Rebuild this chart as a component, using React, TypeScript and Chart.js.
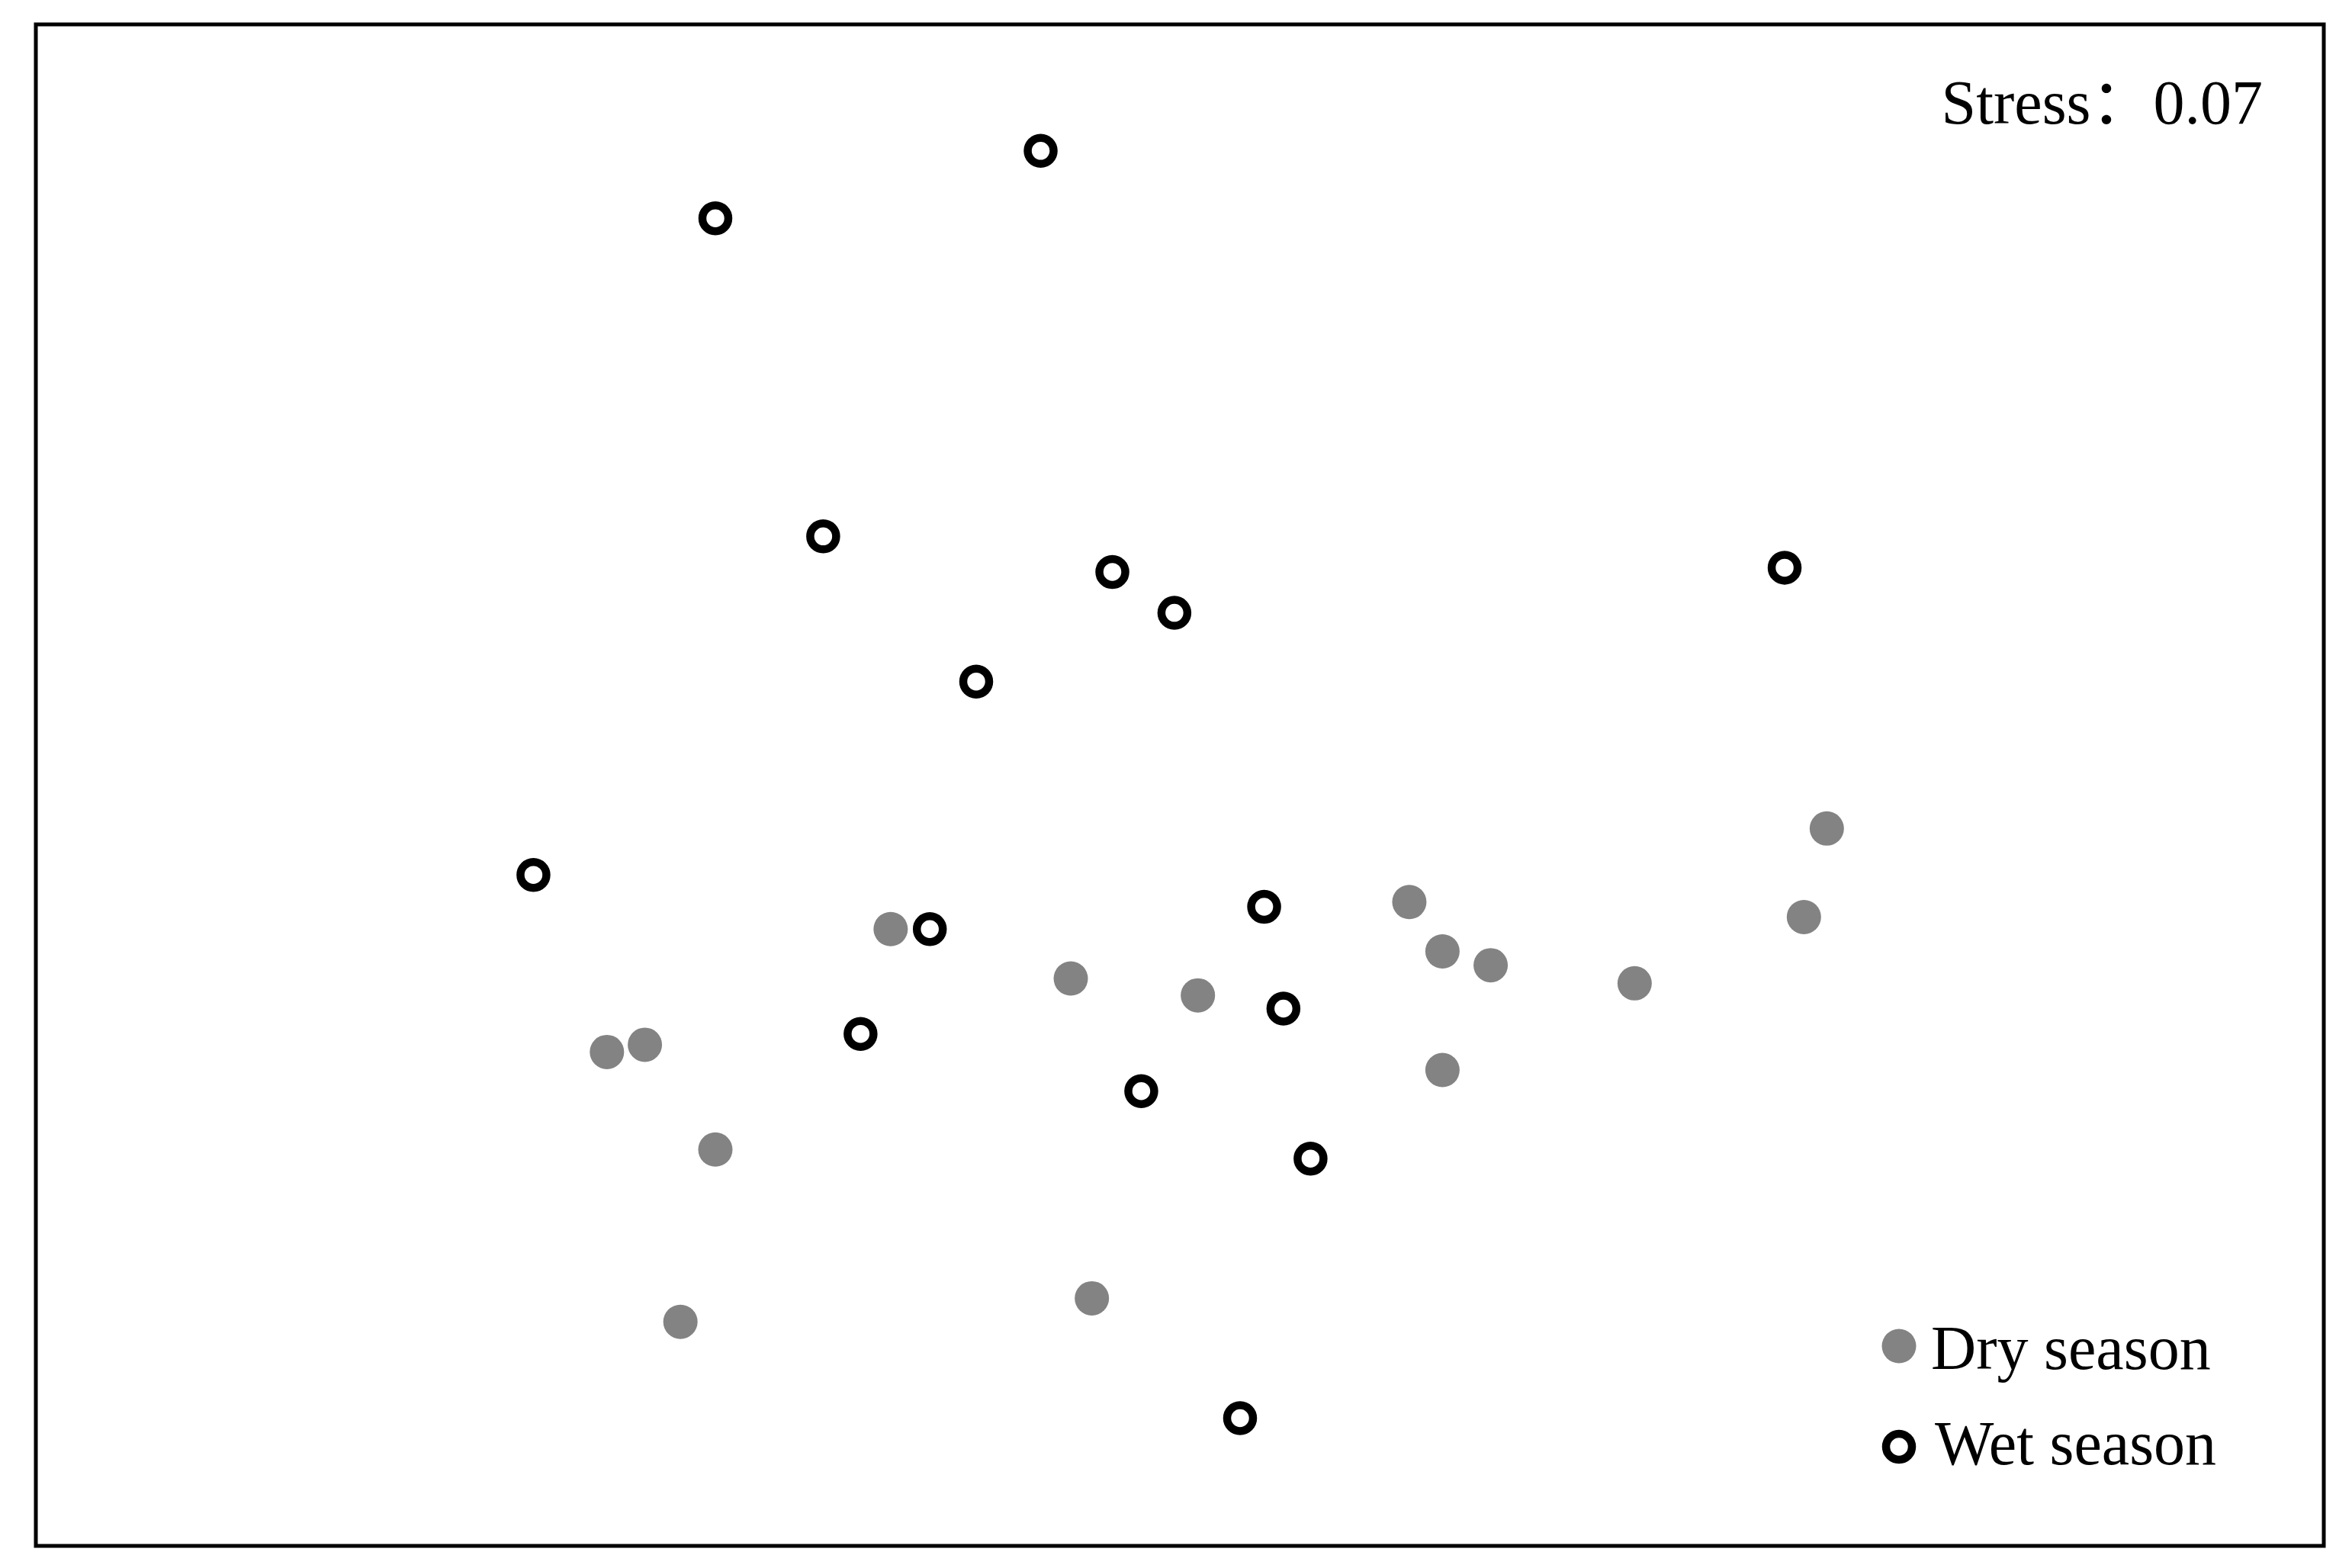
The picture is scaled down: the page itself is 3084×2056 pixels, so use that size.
import React, { useEffect, useRef } from "react";
import { Chart, registerables } from "chart.js";

Chart.register(...registerables);

const seriesNames = ["Dry season", "Wet season"];
const stressLabel = "Stress：0.07";

const dryX = [1.071, 0.378, 1.033, 0.433, 0.513, -0.483, -0.184, 0.027, 0.752, -0.891, -0.954, 0.433, -0.774, -0.149, -0.832];
const dryY = [-0.072, -0.194, -0.219, -0.276, -0.299, -0.239, -0.321, -0.349, -0.329, -0.431, -0.443, -0.473, -0.605, -0.852, -0.891];

const wetX = [-0.234, -0.774, -0.595, -0.115, -0.012, -0.341, 1.001, -1.076, -0.418, 0.137, -0.533, 0.169, -0.067, 0.214, 0.097];
const wetY = [1.053, 0.941, 0.413, 0.354, 0.286, 0.172, 0.361, -0.149, -0.239, -0.202, -0.413, -0.371, -0.508, -0.62, -1.051];

const FONT = "'Liberation Serif', 'Times New Roman', 'Noto Sans CJK SC', serif";

const framePlugin = {
  id: "frameAndText",
  afterDraw(chart: any) {
    const { ctx, chartArea } = chart;
    const { left, right, top, bottom } = chartArea;
    ctx.save();
    ctx.strokeStyle = "#000";
    ctx.lineWidth = 5;
    ctx.strokeRect(left, top, right - left, bottom - top);

    // Stress label
    ctx.fillStyle = "#000";
    ctx.font = `82px ${FONT}`;
    ctx.textAlign = "right";
    ctx.textBaseline = "alphabetic";
    ctx.fillText(stressLabel, 2967, 162);

    // Legend
    ctx.textAlign = "left";
    const items = [
      { y: 1765, base: 1795, textX: 2532 },
      { y: 1897, base: 1920, textX: 2537 },
    ];
    chart.data.datasets.forEach((ds: any, i: number) => {
      const it = items[i];
      ctx.beginPath();
      ctx.arc(2490, it.y, ds.pointRadius, 0, Math.PI * 2);
      ctx.fillStyle = ds.backgroundColor;
      ctx.fill();
      if (ds.borderWidth > 0) {
        ctx.lineWidth = ds.borderWidth;
        ctx.strokeStyle = ds.borderColor;
        ctx.stroke();
      }
      ctx.fillStyle = "#000";
      ctx.fillText(ds.label, it.textX, it.base);
    });
    ctx.restore();
  },
};

export default function App() {
  const ref = useRef<HTMLCanvasElement>(null);

  useEffect(() => {
    document.body.style.margin = "0";
    const canvas = ref.current;
    if (!canvas) return;
    const chart = new Chart(canvas, {
      type: "scatter",
      data: {
        datasets: [
          {
            label: seriesNames[0],
            data: dryX.map((x, i) => ({ x, y: dryY[i] })),
            pointRadius: 22.5,
            pointHoverRadius: 22.5,
            backgroundColor: "#838383",
            borderColor: "#838383",
            borderWidth: 0,
          },
          {
            label: seriesNames[1],
            data: wetX.map((x, i) => ({ x, y: wetY[i] })),
            pointRadius: 17,
            pointHoverRadius: 17,
            backgroundColor: "#ffffff",
            borderColor: "#000000",
            borderWidth: 10.5,
          },
        ],
      },
      options: {
        animation: false,
        responsive: false,
        maintainAspectRatio: false,
        devicePixelRatio: 1,
        clip: false as any,
        layout: { padding: { left: 47, right: 37, top: 32, bottom: 29 } },
        plugins: {
          legend: { display: false },
          tooltip: { enabled: false },
        },
        scales: {
          x: { type: "linear", min: -1.902, max: 1.896, display: false },
          y: { type: "linear", min: -1.263, max: 1.263, display: false },
        },
      },
      plugins: [framePlugin],
    });
    return () => chart.destroy();
  }, []);

  return (
    <div style={{ position: "fixed", left: 0, top: 0, width: 3084, height: 2056, background: "#fff" }}>
      <canvas ref={ref} width={3084} height={2056} style={{ width: 3084, height: 2056, display: "block" }} />
    </div>
  );
}
